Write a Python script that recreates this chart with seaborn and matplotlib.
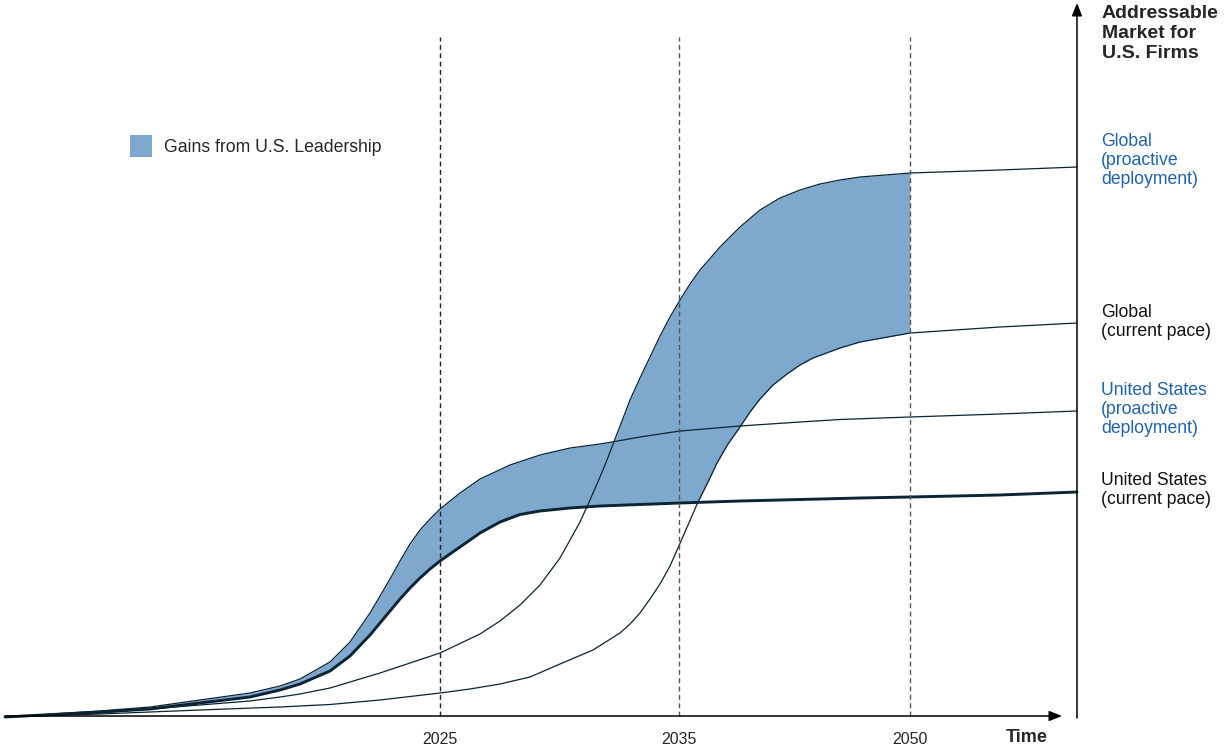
import numpy as np
import matplotlib
matplotlib.use("Agg")
import matplotlib.pyplot as plt
from matplotlib.patches import Patch
import seaborn as sns

sns.set_style("white")
plt.rcParams["font.family"] = ["Liberation Sans", "DejaVu Sans"]

# Conceptual time positions and addressable-market levels for each scenario.
# Heights are measured upward from the time axis.
t_us_current = [5, 100, 150, 200, 250, 280, 300, 330, 350, 370, 380, 390, 400,
                410, 420, 430, 440, 460, 480, 500, 520, 540, 570, 600, 640,
                680, 740, 800, 860, 910, 1000, 1077]
us_current = [-1, 4, 7, 13, 19, 26, 32, 45, 60, 81, 93, 105, 117, 128, 138,
              147, 155, 169, 183, 194, 201.5, 205, 208, 210, 211.5, 213, 215,
              216.5, 218, 219, 221, 224]

t_us_proactive = [5, 100, 150, 200, 250, 280, 300, 330, 350, 370, 390, 400,
                  410, 420, 430, 440, 460, 480, 510, 540, 570, 600, 615, 640,
                  680, 740, 800, 840, 910, 1000, 1077]
us_proactive = [-1, 5, 9, 16, 23, 30, 37, 54, 74, 103, 137, 155, 172, 186,
                197, 207, 223, 237, 251, 261, 268, 272, 274.5, 279, 285, 290,
                294, 296.5, 299, 302, 305]

t_global_proactive = [5, 100, 150, 200, 250, 280, 300, 330, 380, 440, 480,
                      500, 520, 540, 560, 580, 590, 600, 607, 615, 622, 630,
                      640, 650, 660, 670, 680, 690, 700, 720, 740, 760, 780,
                      800, 820, 840, 860, 910, 1000, 1077]
global_proactive = [-1, 3, 7, 11, 15, 19, 22, 28, 43, 63, 82, 95, 111, 131,
                    158, 194, 216, 239, 256, 277, 295, 316, 338, 359, 380,
                    399, 416, 432, 446, 469, 489, 506, 518, 526, 532, 536, 539,
                    543, 546, 549]

t_global_current = [5, 100, 200, 280, 330, 380, 440, 470, 500, 530, 560, 593,
                    620, 630, 640, 650, 660, 670, 678, 688, 698, 708, 717, 728,
                    740, 750, 760, 773, 787, 800, 813, 840, 860, 910, 1000,
                    1077]
global_current = [-1, 2, 6, 9, 11.5, 16, 23, 27, 32, 39, 52, 66, 83, 92, 103,
                  117, 132, 150, 168, 191, 214, 234, 253, 272, 289, 304, 317,
                  331, 342, 351, 358, 368, 374, 383, 389, 393]

# Milestone years
tick_t = [440, 679, 910]
tick_labels = ["2025", "2035", "2050"]
guide_colors = ["#222222", "#555555", "#555555"]

LINE = "#0a2433"
FILL = "#7fa8cf"
BLUE = "#1f63ae"

fig = plt.figure(figsize=(12.25, 7.51), dpi=100)
ax = fig.add_axes([0, 0, 1, 1])
ax.set_xlim(0, 1225)
ax.set_ylim(-35, 716)
ax.axis("off")

# Gains region: leading proactive envelope above leading current-pace envelope
tf = np.linspace(5, tick_t[-1], 4000)
top = np.maximum(np.interp(tf, t_us_proactive, us_proactive),
                 np.interp(tf, t_global_proactive, global_proactive))
bottom = np.maximum(np.interp(tf, t_us_current, us_current),
                    np.interp(tf, t_global_current, global_current))
ax.fill_between(tf, bottom, top, color=FILL, lw=0, zorder=1)

# Scenario curves
for tx, vals, lw in [(t_global_current, global_current, 0.9),
                     (t_global_proactive, global_proactive, 0.9),
                     (t_us_proactive, us_proactive, 0.9),
                     (t_us_current, us_current, 2.1)]:
    sns.lineplot(x=tx, y=vals, ax=ax, color=LINE, lw=lw, estimator=None,
                 zorder=3)

# Milestone dashed guides and year labels
for x, lab, col in zip(tick_t, tick_labels, guide_colors):
    ax.plot([x, x], [0, 679], color=col, lw=1.0,
            ls=(0, (3.5, 2.5)), zorder=4)
    ax.text(x, -24, lab, ha="center", va="center", fontsize=11.5)

# Axes drawn as arrows
arrow = dict(arrowstyle="-|>,head_length=0.55,head_width=0.22",
             color="black", lw=1.1, mutation_scale=14, shrinkA=0, shrinkB=0)
ax.annotate("", xy=(1062, 0), xytext=(5, 0), arrowprops=arrow, zorder=5)
ax.annotate("", xy=(1077, 713), xytext=(1077, -2), arrowprops=arrow, zorder=5)

ax.text(1027, -22, "Time", ha="center", va="center", fontsize=13,
        fontweight="bold")
ax.text(1102, 711, "Addressable\nMarket for\nU.S. Firms", ha="left", va="top",
        fontsize=14, fontweight="bold", linespacing=1.22)

# Scenario labels at the right edge
series_labels = [
    ("Global\n(proactive\ndeployment)", BLUE, 583),
    ("Global\n(current pace)", "#111111", 412),
    ("United States\n(proactive\ndeployment)", BLUE, 334),
    ("United States\n(current pace)", "#111111", 244),
]
for txt, col, y in series_labels:
    ax.text(1101, y, txt, ha="left", va="top", fontsize=12.7, color=col,
            linespacing=1.17)

ax.legend(handles=[Patch(facecolor=FILL, edgecolor="none",
                         label="Gains from U.S. Leadership")],
          loc="upper left", bbox_to_anchor=(130 / 1225, 1 - 135 / 751),
          bbox_transform=fig.transFigure, frameon=False, fontsize=12.7,
          handlelength=1.25, handleheight=1.56, handletextpad=0.68,
          borderpad=0, borderaxespad=0)

fig.savefig("out.png", dpi=100)
